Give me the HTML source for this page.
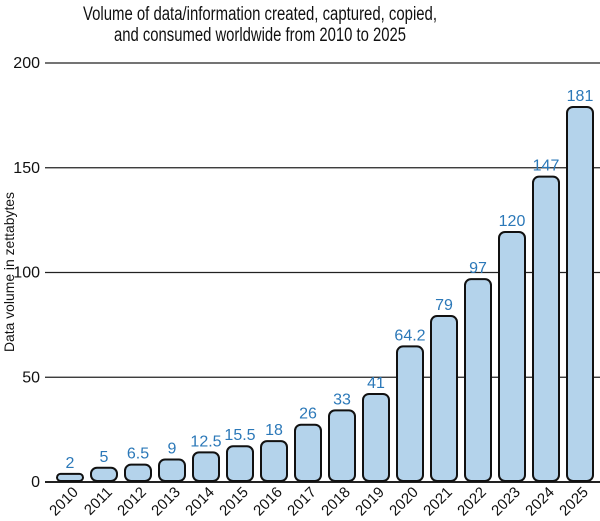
<!DOCTYPE html>
<html><head><meta charset="utf-8"><style>
html,body{margin:0;padding:0;background:#fff;}
svg{display:block;font-family:"Liberation Sans",sans-serif;}
</style></head><body>
<svg id="chart" width="600" height="521">
<text x="260" y="20" font-size="19" text-anchor="middle" textLength="354" lengthAdjust="spacingAndGlyphs" fill="#111">Volume of data/information created, captured, copied,</text>
<text x="260" y="41" font-size="19" text-anchor="middle" textLength="292" lengthAdjust="spacingAndGlyphs" fill="#111">and consumed worldwide from 2010 to 2025</text>
<text transform="translate(14,272) rotate(-90)" font-size="14" text-anchor="middle" textLength="160" lengthAdjust="spacingAndGlyphs" fill="#111">Data volume in zettabytes</text>
<g id="grid"></g><g id="bars"></g><g id="xl"></g>
</svg>
<script>
const categories=["2010","2011","2012","2013","2014","2015","2016","2017","2018","2019","2020","2021","2022","2023","2024","2025"];
const values=[2,5,6.5,9,12.5,15.5,18,26,33,41,64.2,79,97,120,147,181];
const valueLabels=["2","5","6.5","9","12.5","15.5","18","26","33","41","64.2","79","97","120","147","181"];
const yTicks=[0,50,100,150,200];
const NS="http://www.w3.org/2000/svg";
const y0=482,yTop=63,yMax=200;
function y(v){return y0-(v/yMax)*(y0-yTop);}
function yb(v){return 478-v*2.05;}
function x(i){return 70+i*34;}
const bw=26;
function mk(t,a,p){const e=document.createElementNS(NS,t);for(const k in a)e.setAttribute(k,a[k]);p.appendChild(e);return e;}
const grid=document.getElementById('grid');
yTicks.forEach(t=>{
 const l=mk('line',{x1:45,x2:600,y1:y(t),y2:y(t),stroke:'#222','stroke-width':t===0?2:1.3},grid);
 
 
 const tx=mk('text',{x:40,y:y(t)+5,'font-size':16,'text-anchor':'end',fill:'#111'},grid);
 tx.textContent=t;
 
 
});
const bars=document.getElementById('bars'),xl=document.getElementById('xl');
categories.forEach((c,i)=>{
 const top=yb(values[i]);const h=y0-1-top;
 const r=Math.min(6,h/2);
 const b=mk('rect',{x:x(i)-bw/2,y:top,width:bw,height:h,rx:r,ry:r,fill:'#b4d3eb',stroke:'#111','stroke-width':2},bars);
 
 
 const v=mk('text',{x:x(i),y:top-6,'font-size':16,'text-anchor':'middle',fill:'#2b78b8'},bars);
 v.textContent=valueLabels[i];
 
 
 const t=mk('text',{transform:'translate('+(x(i)+9)+','+(y0+11)+') rotate(-45)','font-size':15,'text-anchor':'end',fill:'#111'},xl);
 t.textContent=c;
 
 
});
</script>
</body></html>
